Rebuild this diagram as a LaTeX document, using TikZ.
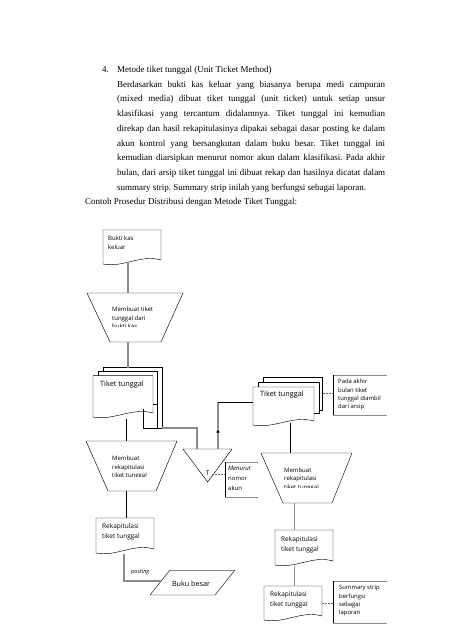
\documentclass[tikz,border=0pt]{standalone}
\usepackage{fontspec}
\setmainfont{Liberation Serif}
\newfontfamily\chartfont{Open Sans}
\usetikzlibrary{arrows.meta}
\tikzset{
    bodyline/.style={anchor=base west,inner sep=0pt,font=\fontsize{9}{11}\selectfont},
    outline/.style={draw=black,line width=0.45pt},
    flowlink/.style={draw=black!45,line width=1.1pt},
    thinlink/.style={draw=black,line width=0.5pt},
    notelink/.style={draw=black!60,line width=0.5pt,dash pattern=on 1.5pt off 1.5pt},
    noteedge/.style={draw=black!45,line width=0.9pt},
    chartsmall/.style={anchor=north west,inner sep=0pt,align=left,font=\chartfont\fontsize{6}{8.5}\selectfont},
    chartnote/.style={anchor=north west,inner sep=0pt,align=left,font=\chartfont\fontsize{5.9}{8.2}\selectfont},
    chartmid/.style={anchor=north west,inner sep=0pt,align=left,font=\chartfont\fontsize{6.5}{10}\selectfont},
    chartbig/.style={anchor=north west,inner sep=0pt,font=\chartfont\fontsize{7.3}{8}\selectfont}
}
% document symbol with a wavy bottom: x1, top, x2, bottom-left
\newcommand{\DocShape}[5][]{%
    \pgfmathsetmacro{\dw}{#4-#2}%
    \draw[outline,#1] (#2,#3) -- (#4,#3) -- (#4,{#5-4})
        .. controls ({#4-0.35*\dw},{#5-10}) and ({#2+0.35*\dw},{#5+4}) .. (#2,#5) -- cycle;%
}
% manual operation (funnel): top x1, top x2, top y, bottom x1, bottom x2, bottom y
\newcommand{\Funnel}[6]{%
    \draw[outline] (#1,#3) -- (#2,#3) -- (#5,#6) -- (#4,#6) -- cycle;%
}
% annotation bracket: x1, y1, x2, y2 (open to the right)
\newcommand{\NoteBox}[4]{%
    \draw[noteedge] (#3,#2) -- (#1,#2);
    \draw[noteedge] (#1,#4) -- (#3,#4);
    \draw[outline] (#1,#2) -- (#1,#4);%
}
\frenchspacing
\begin{document}
\begin{tikzpicture}[x=1pt,y=-1pt]
    \useasboundingbox (0,0) rectangle (452,640);
    \fill[white] (0,0) rectangle (452,640);

    % text above the chart
    \node[bodyline] (num) at (102,72.5) {4.};
    \node[bodyline] (title) at (117,72.5) {Metode tiket tunggal (Unit Ticket Method)};
    \foreach \txt [count=\i] in {%
        {Berdasarkan bukti kas keluar yang biasanya berupa medi campuran},
        {(mixed media) dibuat tiket tunggal (unit ticket) untuk setiap unsur},
        {klasifikasi yang tercantum didalamnya. Tiket tunggal ini kemudian},
        {direkap dan hasil rekapitulasinya dipakai sebagai dasar posting ke dalam},
        {akun kontrol yang bersangkutan dalam buku besar. Tiket tunggal ini},
        {kemudian diarsipkan menurut nomor akun dalam klasifikasi. Pada akhir},
        {bulan, dari arsip tiket tunggal ini dibuat rekap dan hasilnya dicatat dalam}} {
        \node[bodyline] (par\i) at (117,{72.5+14.7*\i}) {\makebox[268pt][s]{\txt}};
    }
    \node[bodyline] (par8) at (117,190.1) {summary strip. Summary strip inilah yang berfungsi sebagai laporan.};
    \node[bodyline] (caption) at (85,204.8) {Contoh Prosedur Distribusi dengan Metode Tiket Tunggal:};

    % ---- left column ----
    % bukti kas keluar
    \DocShape{103}{230}{161}{264}
    \node[chartsmall,font=\chartfont\fontsize{6}{9}\selectfont] (bukti) at (108,235.8) {Bukti kas\\keluar};
    \coordinate (bukti-s) at (128,262);

    % membuat tiket tunggal
    \Funnel{87}{183}{293}{110}{161}{342}
    \begin{scope}
        \clip (85,300) rectangle (185,326);
        \node[chartsmall] (buat1) at (112,306.8) {Membuat tiket\\tunggal dari\\bukti kas};
    \end{scope}
    \coordinate (buat1-n) at (128,293);
    \coordinate (buat1-s) at (128,342);

    % tiket tunggal stack (left)
    \draw[outline] (103,367.7) -- (162,367.7) -- (162,428);
    \draw[outline] (103,367.7) -- (103,371);
    \draw[outline] (98.3,371) -- (157,371) -- (157,428);
    \draw[outline] (98.3,371) -- (98.3,375.7);
    \draw[outline] (153,404) -- (157,404);
    \DocShape{93}{375.7}{153}{417}
    \node[chartbig] (tiket1) at (100,381) {Tiket tunggal};
    \coordinate (tiket1-n) at (128,367.7);
    \coordinate (tiket1-s) at (126,419);
    \coordinate (tiket1-r) at (143,409);
    \coordinate (tiket1-c) at (143,428);
    \coordinate (tiket1-e) at (162,428);
    \coordinate (tiket1-k) at (197,428);

    % membuat rekapitulasi (left)
    \Funnel{86}{177}{441}{108}{156}{491}
    \begin{scope}
        \clip (84,450) rectangle (180,476.5);
        \node[chartsmall] (buat2) at (112,455.8) {Membuat\\rekapitulasi\\tiket tunggal};
    \end{scope}
    \coordinate (buat2-n) at (126,441);
    \coordinate (buat2-s) at (126,491);

    % rekapitulasi tiket tunggal (left)
    \DocShape{96}{518}{154}{553}
    \node[chartmid] (rekap1) at (102,523.5) {Rekapitulasi\\tiket tunggal};
    \coordinate (rekap1-n) at (126,518);
    \coordinate (rekap1-s) at (124,554);
    \coordinate (post-c) at (124,581);

    % buku besar
    \draw[outline] (150,595) -- (170,570);
    \draw[noteedge] (170,570) -- (235,570);
    \draw[outline] (235,570) -- (215,595) -- (150,595);
    \node[anchor=center,inner sep=0pt,font=\chartfont\fontsize{7.2}{8}\selectfont] (buku) at (191,583.5) {Buku besar};
    \coordinate (buku-w) at (161.2,581);
    \node[anchor=west,inner sep=0pt,font=\chartfont\itshape\fontsize{5.6}{7}\selectfont] (posting) at (131,571.7) {posting};

    % ---- arsip ----
    \draw[outline] (183,449) -- (232,449) -- (207.7,482) -- cycle;
    \node[anchor=center,inner sep=0pt,font=\chartfont\fontsize{6.5}{7}\selectfont] (arsip) at (207.7,473.5) {T};
    \coordinate (arsip-in) at (197,449);
    \coordinate (arsip-out) at (218,449);
    \coordinate (arsip-e) at (212,474);
    \coordinate (up-arrow) at (218,429);
    \coordinate (up-c) at (218,402);
    \NoteBox{225}{462}{258}{497}
    \node[chartsmall,font=\chartfont\fontsize{6}{9.7}\selectfont] (urut) at (228,466.3) {\textit{Menurut}\\nomor\\akun};
    \coordinate (urut-w) at (225,474);

    % ---- right column ----
    % tiket tunggal stack (right)
    \draw[outline] (263,377) -- (322,377) -- (322,410) -- (319,410);
    \draw[outline] (263,377) -- (263,382);
    \draw[outline] (258,382) -- (319,382) -- (319,413) -- (314,413);
    \draw[outline] (258,382) -- (258,387);
    \DocShape{253}{387}{314}{425}
    \node[chartbig] (tiket2) at (260,391) {Tiket tunggal};
    \coordinate (tiket2-w) at (253,402);
    \coordinate (tiket2-e) at (323,393);
    \coordinate (tiket2-s) at (290,423);
    \NoteBox{333}{375}{387}{415}
    \node[chartnote] (akhir) at (338,379.3) {Pada akhir\\bulan tiket\\tunggal diambil\\dari arsip};
    \coordinate (akhir-w) at (333,393);

    % membuat rekapitulasi (right)
    \Funnel{261}{352}{453}{283}{332}{503}
    \begin{scope}
        \clip (259,460) rectangle (354,487);
        \node[chartsmall] (buat3) at (284,467.5) {Membuat\\rekapitulasi\\tiket tunggal};
    \end{scope}
    \coordinate (buat3-n) at (290,453);
    \coordinate (buat3-s) at (294.5,503);

    % rekapitulasi tiket tunggal (right)
    \DocShape{275}{530}{333}{565}
    \node[chartmid] (rekap2) at (281,536) {Rekapitulasi\\tiket tunggal};
    \coordinate (rekap2-n) at (294.5,530);
    \coordinate (rekap2-s) at (294.5,566);

    % summary strip
    \DocShape{264}{586}{322}{620}
    \node[chartmid] (rekap3) at (270,591.5) {Rekapitulasi\\tiket tunggal};
    \coordinate (rekap3-n) at (294.5,586);
    \coordinate (rekap3-e) at (322,603);
    \NoteBox{333}{581}{387}{623}
    \node[chartnote] (summary) at (339,585.3) {Summary strip\\berfungsi\\sebagai\\laporan};
    \coordinate (summary-w) at (333,603);

    % ---- connectors ----
    \draw[flowlink] (bukti-s) -- (buat1-n);
    \draw[flowlink] (buat1-s) -- (tiket1-n);
    \draw[thinlink] (tiket1-s) -- (buat2-n);
    \draw[thinlink] (buat2-s) -- (rekap1-n);
    \draw[flowlink] (rekap1-s) -- (post-c) -- (buku-w);
    \draw[thinlink] (tiket1-r) -- (tiket1-c) -- (tiket1-e);
    \draw[flowlink] (tiket1-e) -- (tiket1-k) -- (arsip-in);
    \draw[flowlink,-{Triangle[length=3.5pt,width=3pt,color=black]}] (arsip-out) -- (up-arrow);
    \draw[flowlink] (up-arrow) -- (up-c);
    \draw[thinlink] (up-c) -- (tiket2-w);
    \draw[notelink] (arsip-e) -- (urut-w);
    \draw[notelink] (tiket2-e) -- (akhir-w);
    \draw[thinlink] (tiket2-s) -- (buat3-n);
    \draw[flowlink] (buat3-s) -- (rekap2-n);
    \draw[flowlink] (rekap2-s) -- (rekap3-n);
    \draw[notelink] (rekap3-e) -- (summary-w);
\end{tikzpicture}
\end{document}
